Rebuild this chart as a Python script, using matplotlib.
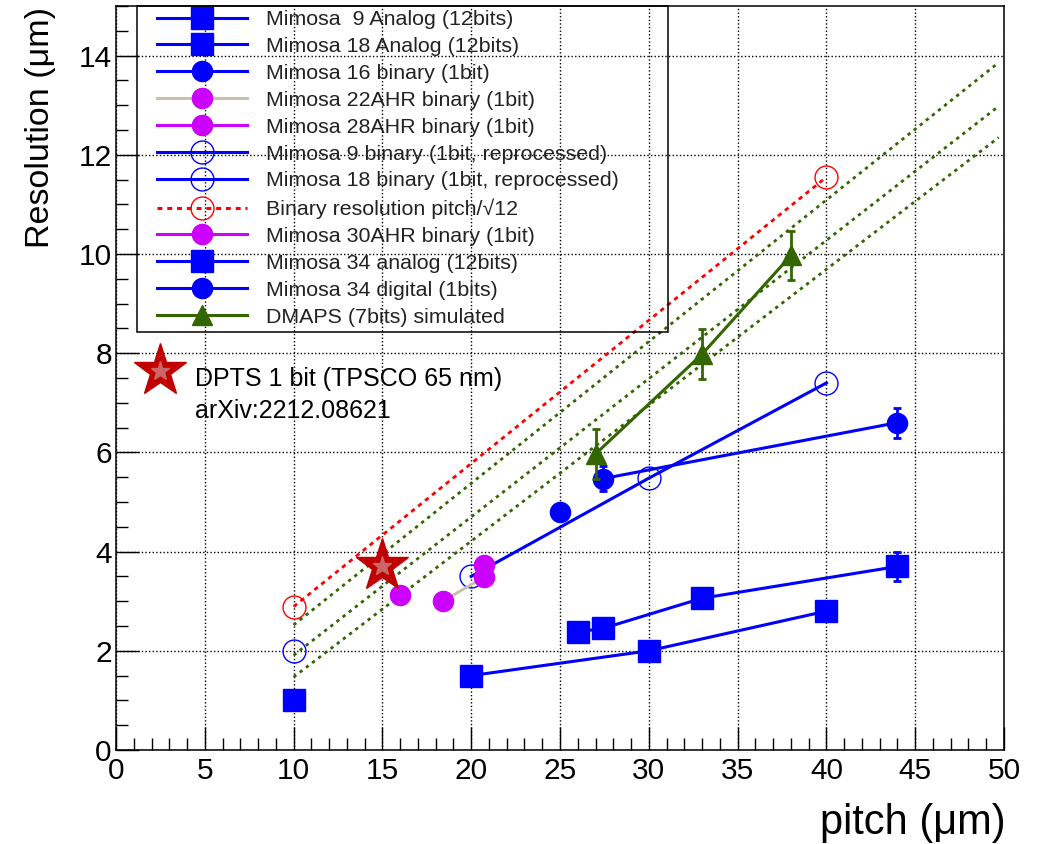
import matplotlib
matplotlib.use("Agg")
import matplotlib.pyplot as plt
from matplotlib.lines import Line2D
from matplotlib.patches import Rectangle
from matplotlib.ticker import MultipleLocator

plt.rcParams['font.family'] = ['Liberation Sans', 'DejaVu Sans']

# ---------------- data ----------------
m9_analog_x = [20, 30, 40]
m9_analog_y = [1.5, 2.0, 2.8]
m18_analog_x = [10]
m18_analog_y = [1.0]
m16_bin_x = [25]
m16_bin_y = [4.8]
m22_x = [18.4, 20.7]
m22_y = [3.0, 3.48]
m28_x = [20.7]
m28_y = [3.72]
m9_bin_x = [20, 30, 40]
m9_bin_y = [3.5, 5.48, 7.4]
m18_bin_x = [10]
m18_bin_y = [2.0]
binres_x = [10, 40]
binres_y = [2.89, 11.55]
m30_x = [16]
m30_y = [3.12]
m34_analog_x = [26, 27.4, 33, 44]
m34_analog_y = [2.38, 2.45, 3.06, 3.7]
m34_analog_err = [0, 0, 0, 0.3]
m34_dig_x = [27.4, 44]
m34_dig_y = [5.47, 6.6]
m34_dig_err = [0.25, 0.3]
dmaps_x = [27, 33, 38]
dmaps_y = [5.97, 7.98, 9.97]
dmaps_err = [0.5, 0.5, 0.5]
dpts_x = [15]
dpts_y = [3.7]
guide_x = [10, 49.7]
guide_y1 = [2.52, 13.86]
guide_y2 = [1.91, 12.98]
guide_y3 = [1.47, 12.35]

labels = [
    "Mimosa  9 Analog (12bits)",
    "Mimosa 18 Analog (12bits)",
    "Mimosa 16 binary (1bit)",
    "Mimosa 22AHR binary (1bit)",
    "Mimosa 28AHR binary (1bit)",
    "Mimosa 9 binary (1bit, reprocessed)",
    "Mimosa 18 binary (1bit, reprocessed)",
    "Binary resolution pitch/√12",
    "Mimosa 30AHR binary (1bit)",
    "Mimosa 34 analog (12bits)",
    "Mimosa 34 digital (1bits)",
    "DMAPS (7bits) simulated",
]
dpts_label = "DPTS 1 bit (TPSCO 65 nm)\narXiv:2212.08621"

# ---------------- style ----------------
BLUE = '#0000ff'
MAG = '#cc00ff'
TAN = '#c8c2aa'
RED = '#ff0000'
GREEN = '#336600'
SQ = 15.5
CI = 14.5
OC = 16.5

fig = plt.figure(figsize=(10.41, 8.44), dpi=100)
ax = fig.add_axes([116/1041, 1 - 750/844, 888/1041, 744/844])
ax.set_xlim(0, 50)
ax.set_ylim(0, 15)

# guide lines
for gy in (guide_y1, guide_y2, guide_y3):
    ax.plot(guide_x, gy, color=GREEN, lw=2.0, ls=(0, (1.2, 1.6)), zorder=2)

# binary resolution
ax.plot(binres_x, binres_y, color=RED, lw=2.0, ls=(0, (1.6, 1.6)),
        marker='o', ms=OC, mfc='none', mec=RED, mew=1.0, zorder=3)

# Mimosa analog
ax.plot(m9_analog_x, m9_analog_y, color=BLUE, lw=2.2, marker='s', ms=SQ, zorder=4)
ax.plot(m18_analog_x, m18_analog_y, color=BLUE, lw=2.2, marker='s', ms=SQ, ls='none', zorder=4)
ax.errorbar(m34_analog_x, m34_analog_y, yerr=m34_analog_err, color=BLUE, lw=2.2,
            marker='s', ms=SQ, capsize=3, elinewidth=2, capthick=2, zorder=4)

# binary
ax.plot(m16_bin_x, m16_bin_y, color=BLUE, marker='o', ms=CI, ls='none', zorder=4)
ax.plot(m9_bin_x, m9_bin_y, color=BLUE, lw=2.2, marker='o', ms=OC, mfc='none',
        mec=BLUE, mew=1.0, zorder=4)
ax.plot(m18_bin_x, m18_bin_y, color=BLUE, marker='o', ms=OC, mfc='none',
        mec=BLUE, mew=1.0, ls='none', zorder=4)
ax.errorbar(m34_dig_x, m34_dig_y, yerr=m34_dig_err, color=BLUE, lw=2.2,
            marker='o', ms=CI, capsize=3, elinewidth=2, capthick=2, zorder=4)
ax.plot(m22_x, m22_y, color=TAN, lw=2.2, marker='o', ms=CI, mfc=MAG, mec=MAG, zorder=4)
ax.plot(m28_x, m28_y, color=MAG, marker='o', ms=CI, ls='none', zorder=4)
ax.plot(m30_x, m30_y, color=MAG, marker='o', ms=CI, ls='none', zorder=4)

# DMAPS
ax.errorbar(dmaps_x, dmaps_y, yerr=dmaps_err, color=GREEN, lw=2.2, marker='^',
            ms=15, capsize=3, elinewidth=2, capthick=2, zorder=5)

# DPTS star
ax.plot(dpts_x, dpts_y, marker='*', ms=40, color='#c00000', ls='none', zorder=6)
ax.plot(dpts_x, dpts_y, marker='*', ms=14, color='#cc6666', ls='none', zorder=7)

# legend-like star + text
ax.plot([0.0495], [0.510], marker='*', ms=40, color='#c00000', transform=ax.transAxes,
        clip_on=False, zorder=6)
ax.plot([0.0495], [0.510], marker='*', ms=14, color='#cc6666', transform=ax.transAxes,
        clip_on=False, zorder=7)
ax.text((195-116)/888, (750-367)/744, dpts_label, transform=ax.transAxes,
        fontsize=18, va='top', ha='left', linespacing=1.42, zorder=8)

# ---------------- legend ----------------
handles = [
    Line2D([], [], color=BLUE, lw=2.2, marker='s', ms=SQ),
    Line2D([], [], color=BLUE, lw=2.2, marker='s', ms=SQ),
    Line2D([], [], color=BLUE, lw=2.2, marker='o', ms=CI),
    Line2D([], [], color=TAN, lw=2.2, marker='o', ms=CI, mfc=MAG, mec=MAG),
    Line2D([], [], color=MAG, lw=2.2, marker='o', ms=CI),
    Line2D([], [], color=BLUE, lw=2.2, marker='o', ms=OC, mfc='none', mec=BLUE, mew=1.0),
    Line2D([], [], color=BLUE, lw=2.2, marker='o', ms=OC, mfc='none', mec=BLUE, mew=1.0),
    Line2D([], [], color=RED, lw=2.2, ls=(0, (1.6, 1.6)), marker='o', ms=OC, mfc='none', mec=RED, mew=1.0),
    Line2D([], [], color=MAG, lw=2.2, marker='o', ms=CI),
    Line2D([], [], color=BLUE, lw=2.2, marker='s', ms=SQ),
    Line2D([], [], color=BLUE, lw=2.2, marker='o', ms=CI),
    Line2D([], [], color=GREEN, lw=2.2, marker='^', ms=15),
]
leg = ax.legend(handles, labels, loc='upper left',
                bbox_to_anchor=((157-116)/888, (750-10)/744),
                frameon=False, fontsize=15.4, borderpad=0, borderaxespad=0,
                handlelength=4.2, handletextpad=0.9, labelspacing=0.37,
                handleheight=0.7)
for t in leg.get_texts():
    t.set_color('#222222')
ax.add_patch(Rectangle((21/888, (750-332)/744), (668-137)/888, (332-6)/744,
                       transform=ax.transAxes, fill=False, ec='black', lw=1.1,
                       zorder=9, clip_on=False))

# ---------------- axes ----------------
ax.xaxis.set_major_locator(MultipleLocator(5))
ax.xaxis.set_minor_locator(MultipleLocator(1))
ax.yaxis.set_major_locator(MultipleLocator(2))
ax.yaxis.set_minor_locator(MultipleLocator(0.5))
ax.tick_params(which='both', direction='in', top=False, right=False, width=1.0,
               labelsize=21.5, colors='black')
ax.tick_params(which='major', length=16.5, pad=5)
ax.tick_params(which='minor', length=8.5)
ax.tick_params(axis='y', pad=3)
ax.grid(True, which='major', color='black', lw=1.0, ls=(0, (1, 1.6)))
ax.set_axisbelow(True)
for s in ax.spines.values():
    s.set_linewidth(1.1)

ax.text(-0.0845, 0.9987, "Resolution (μm)", transform=ax.transAxes, rotation=90,
        ha='center', va='top', fontsize=24.5)
ax.text(1.002, -0.098, "pitch (μm)", transform=ax.transAxes, ha='right',
        va='center', fontsize=30)

fig.savefig("out.png", dpi=100)
